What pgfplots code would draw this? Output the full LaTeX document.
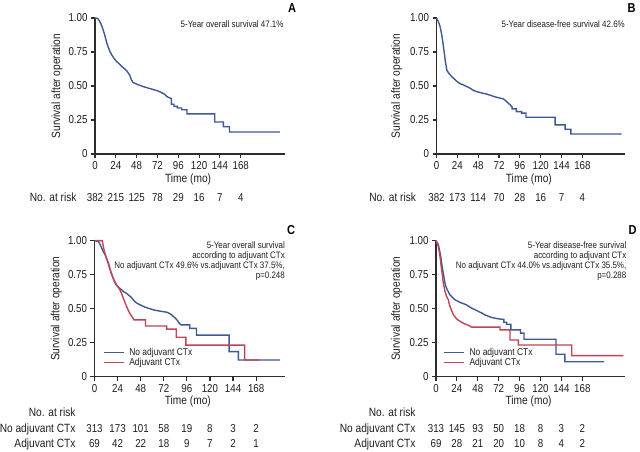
\documentclass[border=0pt]{standalone}
\usepackage{fontspec}
\setmainfont{Liberation Sans}[FakeStretch=0.85]
\usepackage{pgfplots}
\pgfplotsset{compat=1.18}
\definecolor{kmblue}{RGB}{62,88,152}
\definecolor{kmred}{RGB}{192,68,84}
\definecolor{axisgray}{RGB}{45,45,45}
\definecolor{textgray}{RGB}{30,30,30}
\newcommand{\tickfont}{\fontsize{11.5}{12}\selectfont}
\newcommand{\labfont}{\fontsize{12}{13}\selectfont}
\newcommand{\notefont}{\fontsize{9.4}{10}\selectfont}
\newcommand{\riskrow}[9]{%
 \node[anchor=base,font=\tickfont,text=textgray] at (axis cs:0,#1) {#2};
 \node[anchor=base,font=\tickfont,text=textgray] at (axis cs:24,#1) {#3};
 \node[anchor=base,font=\tickfont,text=textgray] at (axis cs:48,#1) {#4};
 \node[anchor=base,font=\tickfont,text=textgray] at (axis cs:72,#1) {#5};
 \node[anchor=base,font=\tickfont,text=textgray] at (axis cs:96,#1) {#6};
 \node[anchor=base,font=\tickfont,text=textgray] at (axis cs:120,#1) {#7};
 \node[anchor=base,font=\tickfont,text=textgray] at (axis cs:144,#1) {#8};
 \node[anchor=base,font=\tickfont,text=textgray] at (axis cs:168,#1) {#9};}
\newcommand{\risklabel}[3]{\node[anchor=base east,font=\labfont,text=textgray,xshift=#1] at (axis cs:0,#2) {#3};}
\pgfplotsset{
 km/.style={
  scale only axis, axis lines=left,
  axis line style={-, line width=1.4bp, color=axisgray},
  ymin=0, ymax=1, xmin=0,
  xtick={0,24,48,72,96,120,144,168},
  ytick={0,0.25,0.5,0.75,1}, yticklabels={0,0.25,0.50,0.75,1.00},
  tick style={line width=1.1bp, color=axisgray}, tick align=outside, major tick length=4bp,
  tick label style={font=\tickfont, text=textgray},
  /pgf/number format/assume math mode=true,
  clip=false,
  xlabel={Time (mo)}, ylabel={Survival after operation},
  label style={font=\labfont, text=textgray},
  xlabel style={at={(axis description cs:0.49,-0.19)}, anchor=center},
  every axis plot/.append style={sharp plot, line width=1.4bp, line join=miter},
  legend style={draw=none, fill=none, font=\fontsize{10}{10}\selectfont, text=textgray,
    anchor=north west, inner sep=0pt, column sep=4.5bp, nodes={inner sep=0.5bp}},
  legend cell align=left,
  legend image code/.code={\draw[##1, line width=1.4bp] (0bp,0bp) -- (20bp,0bp);},
 }
}
\begin{document}
\begin{tikzpicture}
\path[use as bounding box] (0,0) rectangle (640bp,452bp);
% ---------------- A ----------------
\begin{axis}[km, at={(95bp,298bp)}, anchor=south west, width=190bp, height=136bp, xmax=219,
  ylabel style={at={(axis description cs:-0.2,0.5)}, anchor=center}]
\addplot[kmblue] table {
0 1.000
3 0.997
5 0.980
7 0.955
9 0.920
11 0.880
13 0.830
15 0.790
17 0.757
19 0.732
21 0.712
23 0.695
25 0.680
28 0.662
31 0.643
34 0.627
37 0.608
40 0.580
42 0.545
44 0.525
48 0.514
52 0.504
56 0.495
60 0.487
64 0.480
68 0.472
72 0.465
75 0.457
78 0.447
80 0.440
82 0.428
84 0.418
88 0.408
88 0.366
91 0.366
91 0.350
95 0.350
95 0.338
100 0.338
100 0.325
106 0.325
106 0.295
138 0.295
138 0.235
148 0.235
148 0.200
155 0.200
155 0.162
213 0.162
};
\node[anchor=north east, inner sep=0pt, font=\notefont, text=textgray, xshift=-1.3bp, yshift=-2.2bp] at (rel axis cs:1,1) {5-Year overall survival 47.1\%};
\node[font=\bfseries\fontsize{13}{13}\selectfont, text=black, xshift=7bp, yshift=10.3bp] at (rel axis cs:1,1) {A};
\risklabel{-15bp}{-0.348}{No. at risk}
\riskrow{-0.348}{382}{215}{125}{78}{29}{16}{7}{4}
\end{axis}
% ---------------- B ----------------
\begin{axis}[km, at={(436.5bp,298bp)}, anchor=south west, width=188.5bp, height=136bp, xmax=217,
  ylabel style={at={(axis description cs:-0.211,0.5)}, anchor=center}]
\addplot[kmblue] table {
0 1.000
2 0.975
4 0.940
5 0.910
6 0.877
7 0.835
8 0.790
9 0.740
10 0.690
11 0.650
12 0.615
14 0.595
16 0.580
18 0.566
20 0.555
22 0.542
25 0.526
28 0.515
31 0.508
34 0.498
37 0.490
40 0.478
43 0.466
46 0.459
50 0.452
54 0.446
58 0.440
62 0.432
66 0.423
70 0.416
74 0.410
77 0.405
79 0.395
81 0.385
83 0.372
85 0.360
87 0.345
87 0.332
92 0.332
92 0.312
98 0.312
98 0.300
103 0.300
103 0.270
136.5 0.270
136.5 0.214
148 0.214
148 0.182
154.6 0.182
154.6 0.147
213 0.147
};
\node[anchor=north east, inner sep=0pt, font=\notefont, text=textgray, xshift=0bp, yshift=-2.2bp] at (rel axis cs:1,1) {5-Year disease-free survival 42.6\%};
\node[font=\bfseries\fontsize{13}{13}\selectfont, text=black, xshift=6.7bp, yshift=10.3bp] at (rel axis cs:1,1) {B};
\risklabel{-17bp}{-0.348}{No. at risk}
\riskrow{-0.348}{382}{173}{114}{70}{28}{16}{7}{4}
\end{axis}
% ---------------- C ----------------
\begin{axis}[km, at={(94.5bp,75.3bp)}, anchor=south west, width=190.5bp, height=136bp, xmax=198,
  ylabel style={at={(axis description cs:-0.2,0.5)}, anchor=center},
  xlabel style={at={(axis description cs:0.49,-0.184)}, anchor=center},
  legend style={at={(axis description cs:0.043,0.215)}}]
\addplot[kmblue] table {
0 1.000
4 0.995
6 0.970
7.5 0.946
9 0.920
11 0.897
12.5 0.870
14.5 0.835
16 0.795
18 0.750
20 0.712
21.5 0.688
23 0.670
25 0.658
28 0.640
30 0.627
33 0.615
35 0.602
38 0.585
40.5 0.565
42 0.552
44 0.541
47 0.530
51 0.516
54 0.508
58 0.499
61 0.492
65 0.486
70 0.480
75 0.474
78 0.465
80 0.455
82 0.443
84 0.430
86 0.415
87.5 0.398
90 0.381
99 0.381
99 0.355
106 0.355
106 0.306
140 0.306
140 0.184
149.5 0.184
149.5 0.123
193 0.123
};
\addlegendentry{No adjuvant CTx}
\addplot[kmred] table {
0 1.000
8 1.000
10 0.930
12 0.880
14 0.840
16 0.790
18 0.750
20 0.715
22 0.688
24 0.665
26 0.645
28 0.614
30 0.577
32 0.540
34 0.505
36 0.475
38 0.450
40 0.430
41 0.418
53 0.418
53 0.373
75 0.373
75 0.350
85 0.350
85 0.290
95 0.290
95 0.232
156 0.232
156 0.123
171 0.123
};
\addlegendentry{Adjuvant CTx}
\node[anchor=north east, inner sep=0pt, align=right, font=\notefont, text=textgray, yshift=-1bp] at (rel axis cs:1,1) {5-Year overall survival\\according to adjuvant CTx\\No adjuvant CTx 49.6\% vs.adjuvant CTx 37.5\%,\\p=0.248};
\node[font=\bfseries\fontsize{13}{13}\selectfont, text=black, xshift=6bp, yshift=10.7bp] at (rel axis cs:1,1) {C};
\risklabel{-15.5bp}{-0.289}{No. at risk}
\risklabel{-15.5bp}{-0.407}{No adjuvant CTx}
\risklabel{-15.5bp}{-0.521}{Adjuvant CTx}
\riskrow{-0.407}{313}{173}{101}{58}{19}{8}{3}{2}
\riskrow{-0.521}{69}{42}{22}{18}{9}{7}{2}{1}
\end{axis}
% ---------------- D ----------------
\begin{axis}[km, at={(436bp,75.3bp)}, anchor=south west, width=189bp, height=136bp, xmax=217,
  ylabel style={at={(axis description cs:-0.208,0.5)}, anchor=center},
  xlabel style={at={(axis description cs:0.49,-0.184)}, anchor=center},
  legend style={at={(axis description cs:0.037,0.215)}}]
\addplot[kmblue] table {
0 1.000
2.7 0.970
4 0.930
5.4 0.885
6.5 0.835
7.7 0.786
9 0.735
10.3 0.688
11.5 0.660
13 0.639
14.5 0.620
16 0.602
19 0.582
22 0.565
25 0.555
28 0.545
32 0.536
35 0.528
38 0.515
41 0.504
45 0.492
49 0.479
53 0.467
56 0.455
60 0.445
64 0.435
68 0.430
72 0.425
78 0.421
78 0.400
81 0.400
81 0.386
86 0.386
86 0.344
97 0.344
97 0.320
101 0.320
101 0.275
137.8 0.275
137.8 0.165
148 0.165
148 0.110
193 0.110
};
\addlegendentry{No adjuvant CTx}
\addplot[kmred] table {
0 1.000
2.7 0.958
3.7 0.920
4.6 0.885
5.5 0.835
6.5 0.786
7.5 0.735
8.4 0.688
9.5 0.655
10.3 0.627
12.2 0.590
14.2 0.565
15 0.540
16.1 0.516
18 0.485
20 0.455
22 0.438
24 0.423
27 0.410
30 0.398
33 0.388
36 0.381
39 0.372
41 0.364
73.5 0.364
73.5 0.344
85 0.344
85 0.270
94.5 0.270
94.5 0.233
155.8 0.233
155.8 0.155
215 0.155
};
\addlegendentry{Adjuvant CTx}
\node[anchor=north east, inner sep=0pt, align=right, font=\notefont, text=textgray, xshift=1.5bp, yshift=-1bp] at (rel axis cs:1,1) {5-Year disease-free survival\\according to adjuvant CTx\\No adjuvant CTx 44.0\% vs.adjuvant CTx 35.5\%,\\p=0.288};
\node[font=\bfseries\fontsize{13}{13}\selectfont, text=black, xshift=7.7bp, yshift=10.7bp] at (rel axis cs:1,1) {D};
\risklabel{-17bp}{-0.289}{No. at risk}
\risklabel{-17bp}{-0.407}{No adjuvant CTx}
\risklabel{-17bp}{-0.521}{Adjuvant CTx}
\riskrow{-0.407}{313}{145}{93}{50}{18}{8}{3}{2}
\riskrow{-0.521}{69}{28}{21}{20}{10}{8}{4}{2}
\end{axis}
\end{tikzpicture}
\end{document}
